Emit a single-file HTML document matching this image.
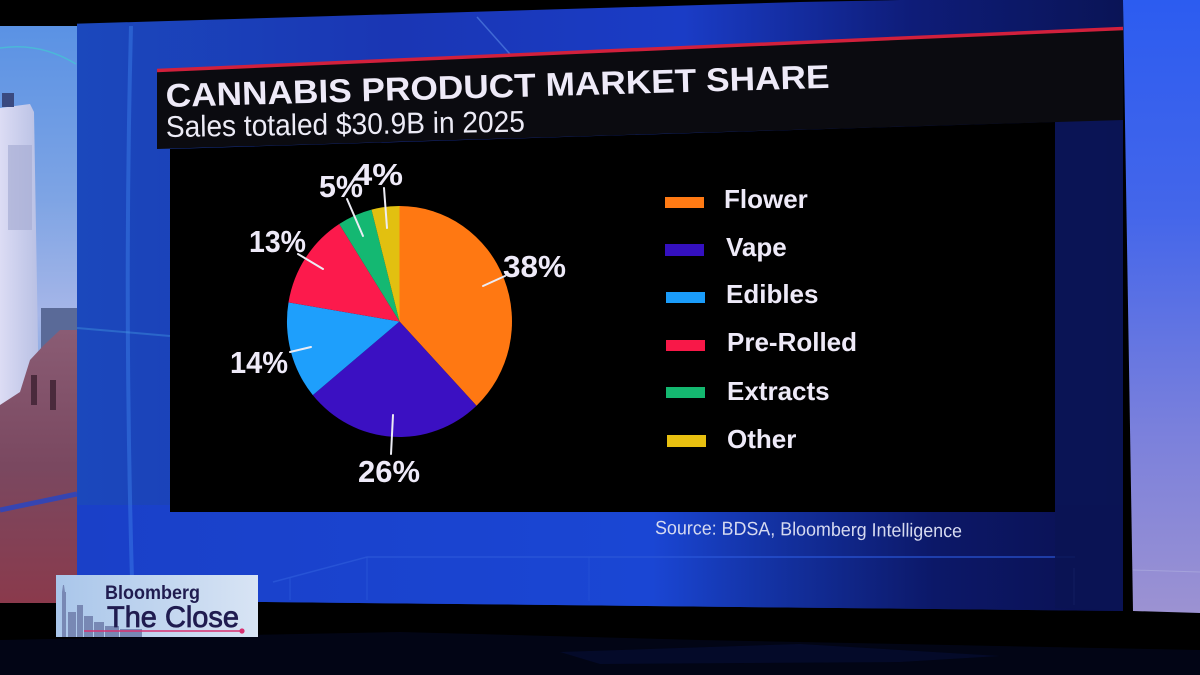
<!DOCTYPE html>
<html>
<head>
<meta charset="utf-8">
<style>
  html,body{margin:0;padding:0;background:#000;}
  svg{display:block;}
  text{font-family:"Liberation Sans", Arial, sans-serif;}
</style>
</head>
<body>
<svg width="1200" height="675" viewBox="0 0 1200 675" xmlns="http://www.w3.org/2000/svg">
  <defs>
    <linearGradient id="bd" x1="77" y1="0" x2="1123" y2="0" gradientUnits="userSpaceOnUse">
      <stop offset="0" stop-color="#1b48bc"/>
      <stop offset="0.3" stop-color="#1a36b4"/>
      <stop offset="0.58" stop-color="#1a3cc6"/>
      <stop offset="0.8" stop-color="#0e1c78"/>
      <stop offset="1" stop-color="#0a1456"/>
    </linearGradient>
    <linearGradient id="lower" x1="77" y1="0" x2="1123" y2="0" gradientUnits="userSpaceOnUse">
      <stop offset="0" stop-color="#1a40c8"/>
      <stop offset="0.55" stop-color="#1a46d4"/>
      <stop offset="0.65" stop-color="#1434a8"/>
      <stop offset="0.82" stop-color="#0c1868"/>
      <stop offset="1" stop-color="#0a1050"/>
    </linearGradient>
    <linearGradient id="rs" x1="0" y1="0" x2="0" y2="1">
      <stop offset="0" stop-color="#2c5cf0"/>
      <stop offset="0.35" stop-color="#4466ea"/>
      <stop offset="0.7" stop-color="#7a80dc"/>
      <stop offset="1" stop-color="#9c92d2"/>
    </linearGradient>
    <linearGradient id="sky" x1="0" y1="0" x2="0" y2="1">
      <stop offset="0" stop-color="#5a92e4"/>
      <stop offset="0.3" stop-color="#7ea4e4"/>
      <stop offset="0.5" stop-color="#a6b6e8"/>
      <stop offset="0.6" stop-color="#88aae2"/>
      <stop offset="1" stop-color="#6a8ed8"/>
    </linearGradient>
    <linearGradient id="tower" x1="0" y1="0" x2="1" y2="0">
      <stop offset="0" stop-color="#dcdcf4"/>
      <stop offset="1" stop-color="#b8c0e4"/>
    </linearGradient>
    <linearGradient id="bldg" x1="0" y1="0" x2="0" y2="1">
      <stop offset="0" stop-color="#8a5c74"/>
      <stop offset="0.5" stop-color="#7a4860"/>
      <stop offset="1" stop-color="#8a3a4c"/>
    </linearGradient>
    <linearGradient id="box" x1="0" y1="0" x2="1" y2="0">
      <stop offset="0" stop-color="#a9c6ea"/>
      <stop offset="1" stop-color="#d8e4f4"/>
    </linearGradient>
  </defs>

  <rect x="0" y="0" width="1200" height="675" fill="#000"/>

  <!-- main blue backdrop -->
  <polygon points="77,0 1123,0 1123,611 77,600" fill="url(#bd)"/>
  <polygon points="77,505 1123,505 1123,611 77,600" fill="url(#lower)"/>
  <!-- stage wireframe -->
  <polyline points="273,582 367,557 1075,557" fill="none" stroke="#2a58d8" stroke-width="1.5" opacity="0.8"/>
  <line x1="290" y1="578" x2="290" y2="600" stroke="#2a58d8" stroke-width="1.2" opacity="0.7"/>
  <line x1="367" y1="557" x2="367" y2="600" stroke="#2a58d8" stroke-width="1.2" opacity="0.7"/>
  <line x1="589" y1="557" x2="589" y2="601" stroke="#2a58d8" stroke-width="1.2" opacity="0.5"/>
  <line x1="1074" y1="568" x2="1074" y2="605" stroke="#6a7ad0" stroke-width="1.2" opacity="0.7"/>
  <!-- light streaks -->
  <path d="M131,26 Q124,300 132,580" fill="none" stroke="#3f80ea" stroke-width="4" opacity="0.45"/>
  <line x1="477" y1="17" x2="517" y2="62" stroke="#5a8ae8" stroke-width="1.5" opacity="0.6"/>
  <line x1="77" y1="328" x2="170" y2="336" stroke="#4aa8e8" stroke-width="2" opacity="0.35"/>

  <!-- left photo strip -->
  <rect x="0" y="26" width="77" height="577" fill="url(#sky)"/>
  <path d="M0,48 Q40,42 76,64" fill="none" stroke="#46c0d4" stroke-width="1.5" opacity="0.8"/>
  <polygon points="0,108 30,104 34,112 39,405 0,415" fill="url(#tower)"/>
  <rect x="2" y="93" width="12" height="14" fill="#3a4a80"/>
  <rect x="8" y="145" width="24" height="85" fill="#a8aed4" opacity="0.7"/>
  <rect x="41" y="308" width="36" height="40" fill="#5a6a98"/>
  <polygon points="0,405 20,392 30,360 44,345 60,330 77,330 77,603 0,603" fill="url(#bldg)"/>
  <rect x="31" y="375" width="6" height="30" fill="#4a2a3c"/>
  <rect x="50" y="380" width="6" height="30" fill="#4a2a3c"/>
  <line x1="0" y1="510" x2="77" y2="494" stroke="#2446c8" stroke-width="5" opacity="0.8"/>

  <!-- right strip -->
  <polygon points="1123,0 1200,0 1200,613 1133,611" fill="url(#rs)"/>
  <line x1="1133" y1="570" x2="1200" y2="572" stroke="#b0b0e0" stroke-width="1" opacity="0.6"/>

  <!-- top black -->
  <polygon points="0,0 900,0 800,2 300,17 0,26" fill="#000"/>

  <!-- right dark margin beside chart -->
  <polygon points="1055,120 1123,118 1123,611 1055,608" fill="#0a1454" opacity="0.9"/>

  <!-- header band -->
  <polygon points="157,71 1123,28 1123,120 157,149" fill="#0b0b10"/>
  <line x1="157" y1="70.5" x2="1123" y2="28.5" stroke="#d2203c" stroke-width="3.5"/>

  <!-- chart panel -->
  <polygon points="170,149 1055,122 1055,512 170,512" fill="#000"/>

  <!-- title -->
  <text x="166" y="107" transform="rotate(-1.65 166 107)" font-size="33" font-weight="bold" fill="#eeeaf8" textLength="664" lengthAdjust="spacingAndGlyphs">CANNABIS PRODUCT MARKET SHARE</text>
  <text x="166" y="137" transform="rotate(-0.85 166 137)" font-size="30" fill="#ecebf6" textLength="359" lengthAdjust="spacingAndGlyphs">Sales totaled $30.9B in 2025</text>

  <!-- pie -->
  <path d="M399.5,321.5 L399.5,206 A112.5,115.5 0 0 1 476.5,405.7 Z" fill="#ff7812"/>
  <path d="M399.5,321.5 L476.5,405.7 A112.5,115.5 0 0 1 312.8,395.1 Z" fill="#3b10c2"/>
  <path d="M399.5,321.5 L312.8,395.1 A112.5,115.5 0 0 1 288.5,302.4 Z" fill="#1e9ffc"/>
  <path d="M399.5,321.5 L288.5,302.4 A112.5,115.5 0 0 1 339.2,224.0 Z" fill="#fc1a4c"/>
  <path d="M399.5,321.5 L339.2,224.0 A112.5,115.5 0 0 1 371.5,209.6 Z" fill="#14b872"/>
  <path d="M399.5,321.5 L371.5,209.6 A112.5,115.5 0 0 1 399.5,206 Z" fill="#e2c010"/>

  <!-- leader lines -->
  <g stroke="#ececf4" stroke-width="2" stroke-linecap="round">
    <line x1="483" y1="286" x2="505" y2="276"/>
    <line x1="298" y1="254" x2="323" y2="269"/>
    <line x1="347" y1="199" x2="363" y2="236"/>
    <line x1="384" y1="188" x2="387" y2="228"/>
    <line x1="290" y1="352" x2="311" y2="347"/>
    <line x1="393" y1="415" x2="391" y2="454"/>
  </g>

  <!-- pie labels -->
  <g font-size="31" font-weight="bold" fill="#eeeaf8">
    <text x="503" y="277" textLength="63" lengthAdjust="spacingAndGlyphs">38%</text>
    <text x="249" y="252" textLength="57" lengthAdjust="spacingAndGlyphs">13%</text>
    <text x="319" y="197" textLength="44" lengthAdjust="spacingAndGlyphs">5%</text>
    <text x="353" y="185" textLength="50" lengthAdjust="spacingAndGlyphs">4%</text>
    <text x="230" y="373" textLength="58" lengthAdjust="spacingAndGlyphs">14%</text>
    <text x="358" y="482" textLength="62" lengthAdjust="spacingAndGlyphs">26%</text>
  </g>

  <!-- legend -->
  <rect x="665" y="197" width="39" height="11" fill="#ff7a14"/>
  <rect x="665" y="244" width="39" height="12" fill="#3410c0"/>
  <rect x="666" y="292" width="39" height="11" fill="#1a9cfa"/>
  <rect x="666" y="340" width="39" height="11" fill="#f81848"/>
  <rect x="666" y="387" width="39" height="11" fill="#14b870"/>
  <rect x="667" y="435" width="39" height="12" fill="#e8c010"/>
  <g font-size="26" font-weight="bold" fill="#eeeaf8">
    <text x="724" y="208">Flower</text>
    <text x="726" y="256">Vape</text>
    <text x="726" y="303">Edibles</text>
    <text x="727" y="351">Pre-Rolled</text>
    <text x="727" y="400">Extracts</text>
    <text x="727" y="448">Other</text>
  </g>

  <!-- source -->
  <text x="655" y="534" transform="rotate(0.6 655 534)" font-size="19" fill="#d6daf0" textLength="307" lengthAdjust="spacingAndGlyphs">Source: BDSA, Bloomberg Intelligence</text>

  <!-- bottom reflections -->
  <polygon points="0,640 400,632 700,640 1200,650 1200,675 0,675" fill="#03061a" opacity="0.8"/>
  <polygon points="560,652 800,644 1000,656 900,662 600,664" fill="#0a1450" opacity="0.35"/>

  <!-- Bloomberg The Close box -->
  <rect x="56" y="575" width="202" height="62" fill="url(#box)"/>
  <g fill="#7888b4">
    <rect x="62" y="592" width="4" height="45"/>
    <polygon points="63,585 64,585 65,592 62,592"/>
    <rect x="68" y="612" width="8" height="25"/>
    <rect x="77" y="605" width="6" height="32"/>
    <rect x="84" y="616" width="9" height="21"/>
    <rect x="94" y="622" width="10" height="15"/>
    <rect x="105" y="626" width="14" height="11"/>
    <rect x="120" y="629" width="22" height="8"/>
  </g>
  <text x="105" y="599" font-size="19" font-weight="bold" fill="#201c50" textLength="95" lengthAdjust="spacingAndGlyphs">Bloomberg</text>
  <text x="107" y="627" font-size="30" fill="#201c50" stroke="#201c50" stroke-width="0.8" textLength="132" lengthAdjust="spacingAndGlyphs">The Close</text>
  <line x1="84" y1="631" x2="242" y2="631" stroke="#d83070" stroke-width="1.6"/>
  <circle cx="242" cy="631" r="2.6" fill="#d83070"/>
</svg>
</body>
</html>
